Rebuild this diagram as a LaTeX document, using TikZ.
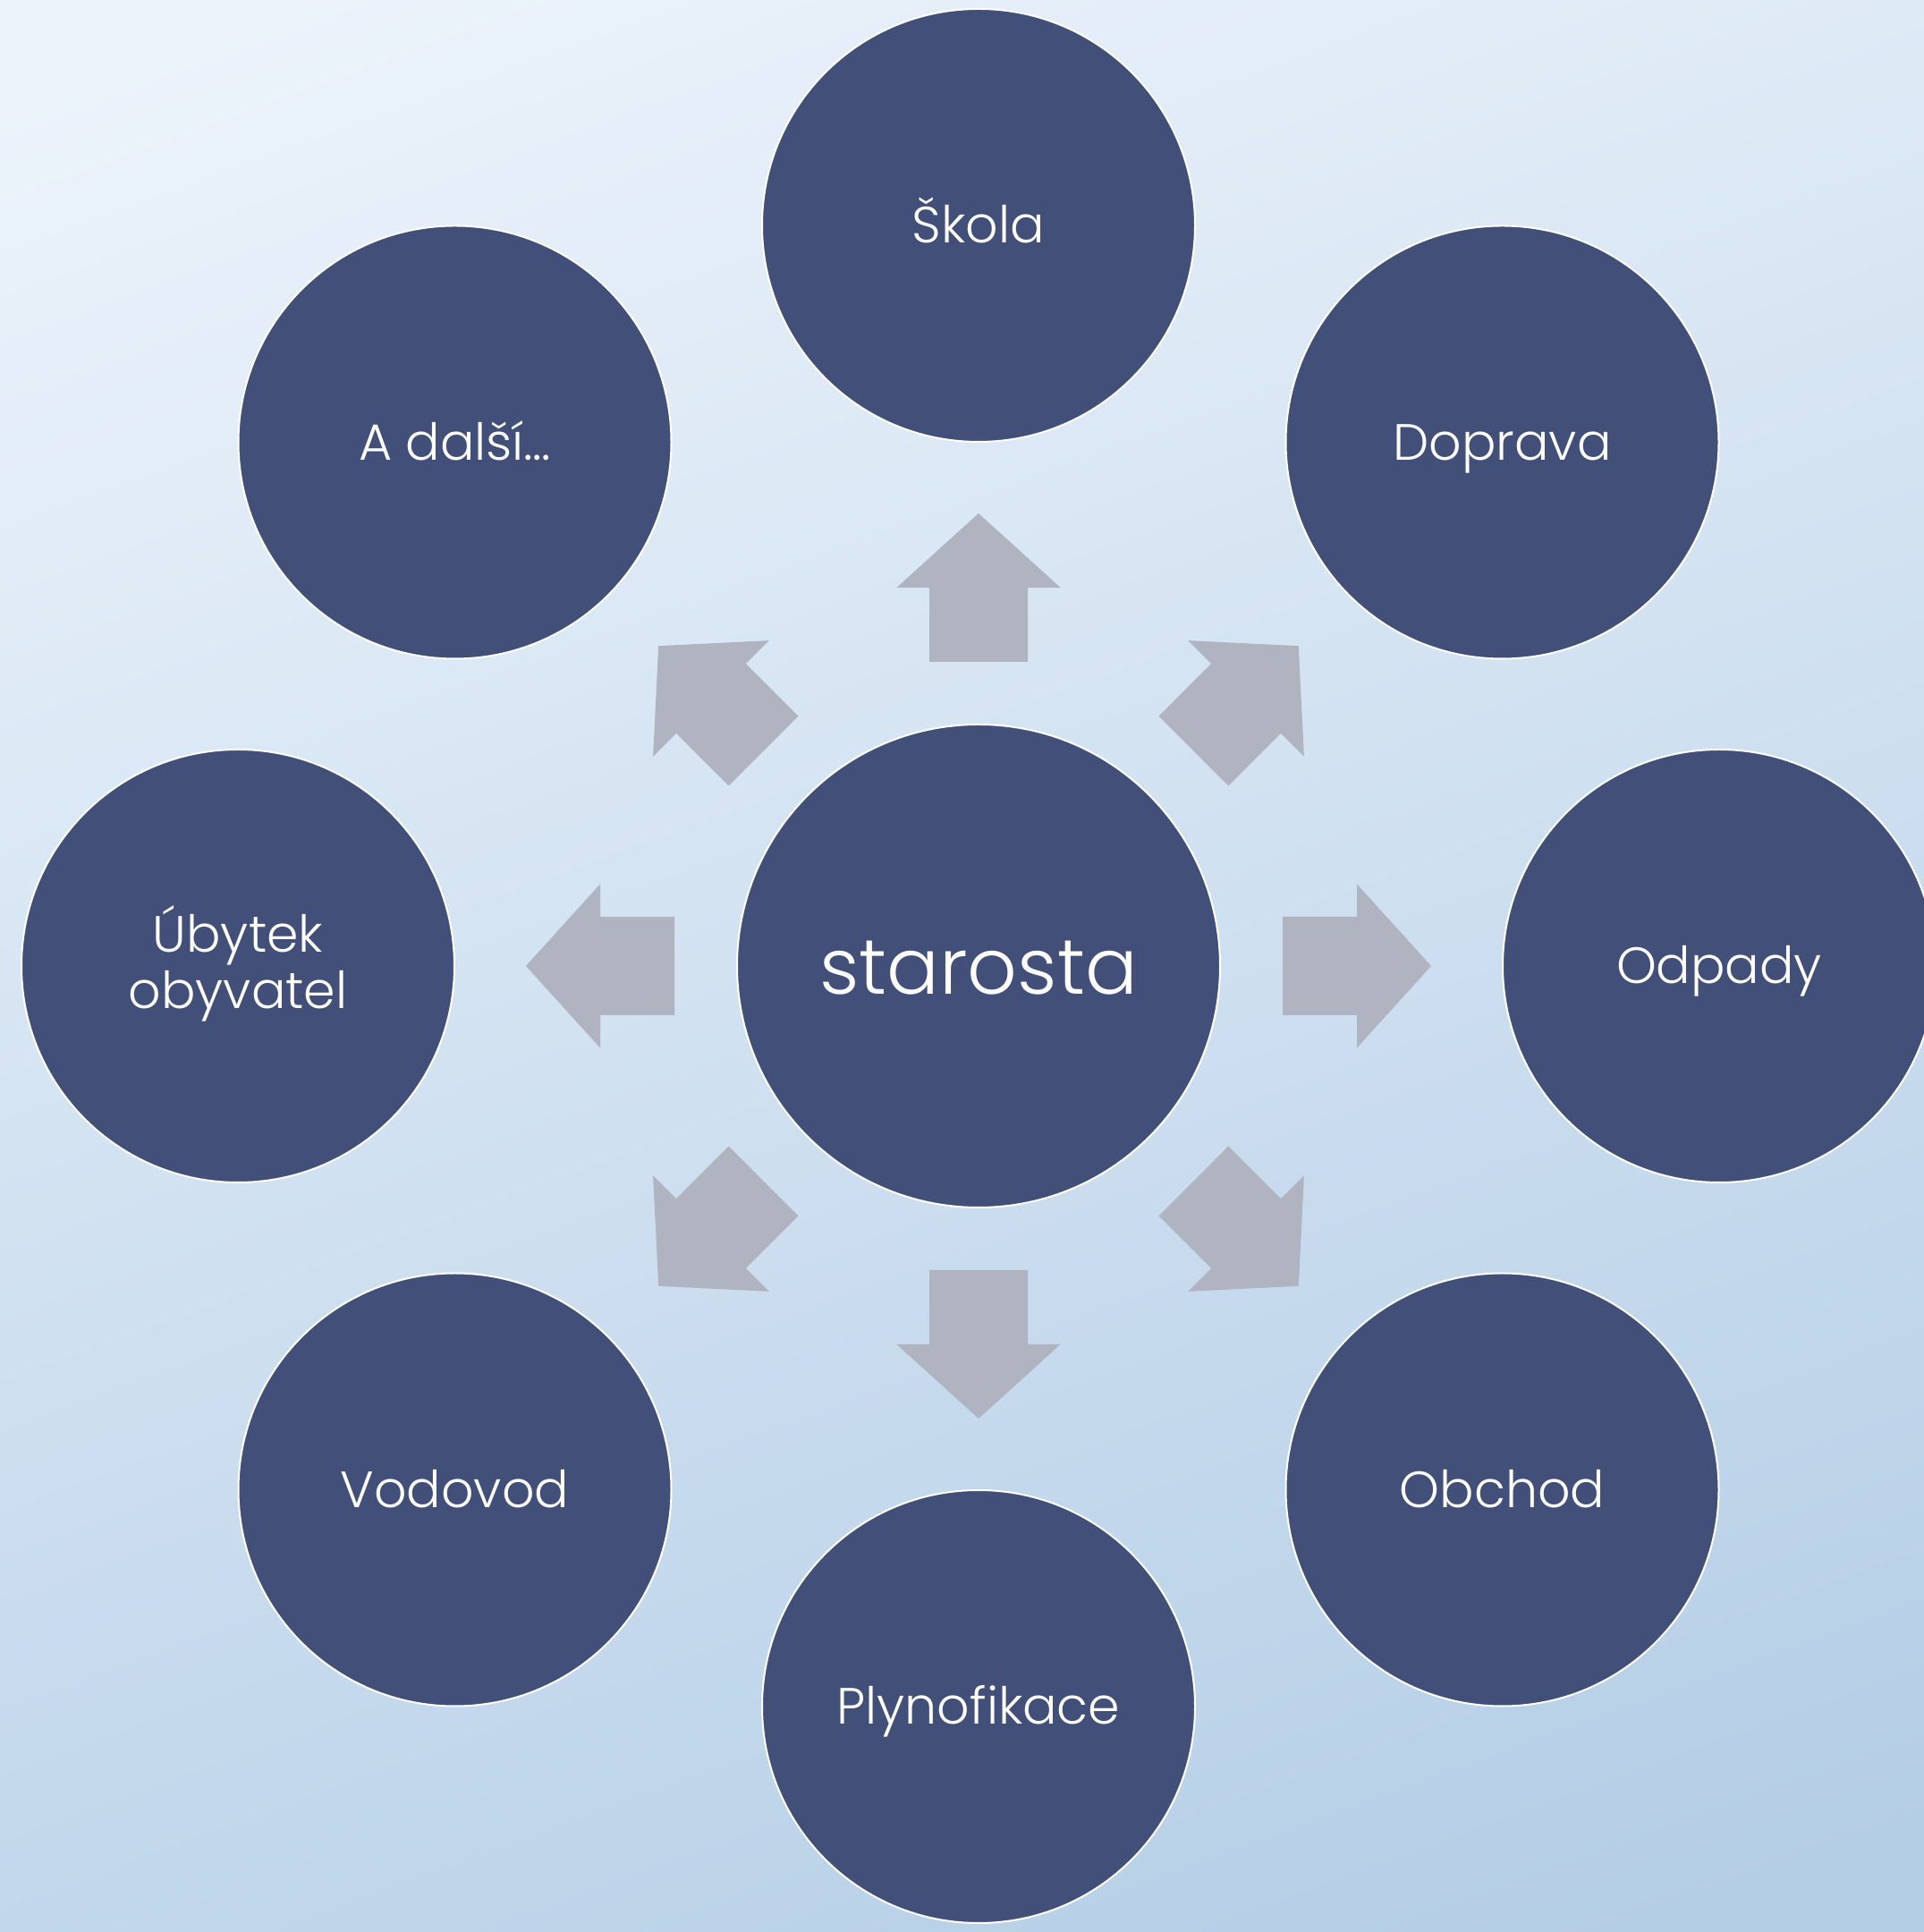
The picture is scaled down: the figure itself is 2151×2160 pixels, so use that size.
\documentclass[tikz,border=0pt]{standalone}
\usepackage{fontspec}
\setmainfont{Poppins}[UprightFont={* Light}]
\definecolor{circfill}{RGB}{65,79,121}
\definecolor{arrowfill}{RGB}{176,179,192}
\definecolor{bgtop}{RGB}{236,243,251}
\definecolor{bgbot}{RGB}{180,206,230}
\begin{document}
\begin{tikzpicture}[x=0.5pt,y=0.5pt,
  sat/.style={circle, fill=circfill, draw=white, line width=1pt,
    minimum size=242pt, inner sep=0pt, text=white, align=center,
    text height=25pt, text depth=5pt,
    font=\fontsize{28.5}{31.5}\selectfont},
  twoline/.style={text height=53pt, text depth=5pt},
  hub/.style={sat, minimum size=270pt, text height=38pt, text depth=6pt,
    font=\fontsize{43.5}{52}\selectfont},
  blockarrow/.style={fill=arrowfill}]
\useasboundingbox (0,0) rectangle (2151,2160);
\clip (0,0) rectangle (2151,2160);
\shade[top color=bgtop, bottom color=bgbot, shading angle=20] (-200,-200) rectangle (2351,2360);
\node[hub] (c) at (1094,1080) {starosta};
\foreach \a in {0,45,...,315}{
  \fill[blockarrow, shift={(c.center)}, rotate=\a]
    (340,55) -- (423,55) -- (423,91.6) -- (506,0) -- (423,-91.6) -- (423,-55) -- (340,-55) -- cycle;
}
\node[sat] (skola) at (1094,1908) {Škola};
\node[sat] (doprava) at (1679.5,1665.5) {Doprava};
\node[sat] (odpady) at (1922,1080) {Odpady};
\node[sat] (obchod) at (1679.5,494.5) {Obchod};
\node[sat] (plyn) at (1094,252) {Plynofikace};
\node[sat] (vodovod) at (508.5,494.5) {Vodovod};
\node[sat, twoline] (ubytek) at (266,1080) {Úbytek\\obyvatel};
\node[sat] (dalsi) at (508.5,1665.5) {A další…};
\end{tikzpicture}
\end{document}
